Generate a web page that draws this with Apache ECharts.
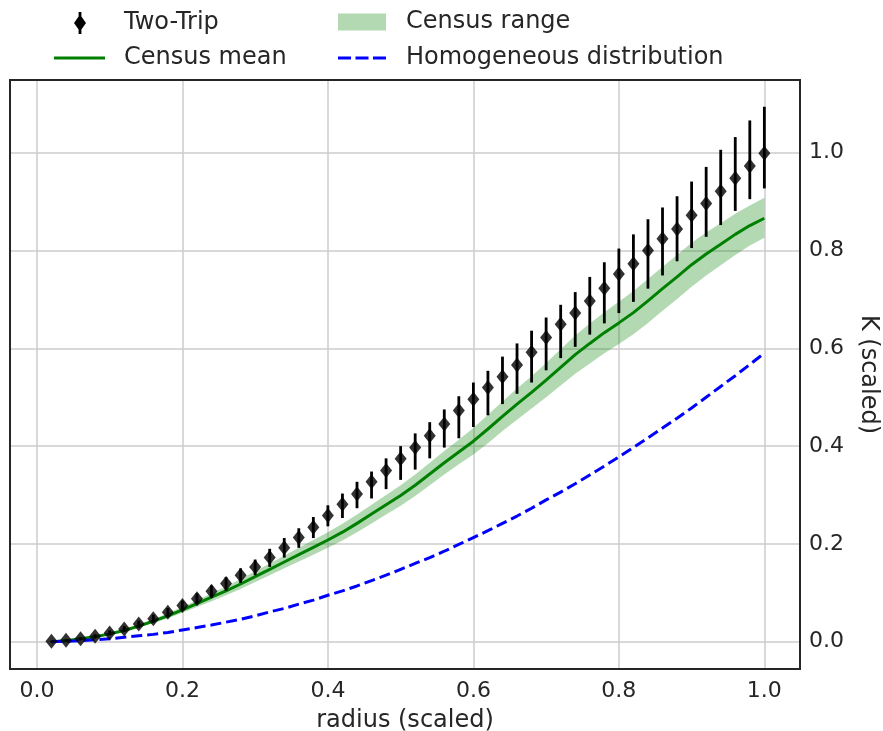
<!DOCTYPE html>
<html>
<head>
<meta charset="utf-8">
<script src="https://cdn.jsdelivr.net/npm/echarts@6/dist/echarts.min.js"></script>
<style>
html,body{margin:0;padding:0;background:#fff;}
#chart{width:883px;height:731px;}
</style>
</head>
<body>
<div id="chart"></div>
<script>
// ---- data ----
const radius = [0.02,0.04,0.06,0.08,0.10,0.12,0.14,0.16,0.18,0.20,0.22,0.24,0.26,0.28,0.30,0.32,0.34,0.36,0.38,0.40,0.42,0.44,0.46,0.48,0.50,0.52,0.54,0.56,0.58,0.60,0.62,0.64,0.66,0.68,0.70,0.72,0.74,0.76,0.78,0.80,0.82,0.84,0.86,0.88,0.90,0.92,0.94,0.96,0.98,1.00];

const twoTrip = [0.001,0.003,0.006,0.011,0.018,0.026,0.036,0.047,0.060,0.074,0.088,0.103,0.119,0.136,0.153,0.172,0.192,0.213,0.234,0.258,0.281,0.302,0.327,0.350,0.374,0.397,0.421,0.445,0.473,0.496,0.520,0.542,0.566,0.592,0.622,0.649,0.672,0.697,0.723,0.752,0.773,0.800,0.824,0.844,0.872,0.896,0.921,0.948,0.973,0.999];
const twoTripLow = [0.000,0.001,0.003,0.007,0.013,0.020,0.029,0.039,0.051,0.064,0.077,0.090,0.104,0.120,0.136,0.153,0.172,0.192,0.212,0.236,0.253,0.273,0.293,0.312,0.331,0.352,0.375,0.397,0.416,0.439,0.463,0.486,0.507,0.530,0.555,0.580,0.603,0.628,0.651,0.672,0.695,0.722,0.749,0.778,0.805,0.828,0.852,0.881,0.905,0.927];
const twoTripHigh = [0.002,0.005,0.009,0.015,0.023,0.032,0.043,0.055,0.069,0.084,0.099,0.115,0.132,0.150,0.168,0.190,0.212,0.232,0.255,0.279,0.303,0.327,0.348,0.375,0.400,0.426,0.449,0.475,0.502,0.530,0.554,0.583,0.610,0.636,0.663,0.689,0.715,0.746,0.776,0.804,0.833,0.864,0.888,0.911,0.941,0.971,1.006,1.032,1.066,1.094];

const censusMean = [0.000,0.002,0.006,0.010,0.016,0.023,0.032,0.042,0.053,0.065,0.078,0.091,0.104,0.118,0.133,0.148,0.163,0.178,0.193,0.208,0.224,0.242,0.261,0.280,0.299,0.320,0.343,0.366,0.388,0.410,0.435,0.461,0.486,0.510,0.535,0.561,0.587,0.610,0.632,0.652,0.673,0.697,0.722,0.746,0.771,0.793,0.813,0.833,0.851,0.866];
const censusLow = [0.000,0.001,0.005,0.008,0.014,0.020,0.029,0.038,0.048,0.059,0.071,0.083,0.095,0.108,0.122,0.136,0.150,0.164,0.178,0.192,0.207,0.224,0.242,0.260,0.278,0.298,0.320,0.342,0.363,0.383,0.406,0.431,0.454,0.477,0.500,0.524,0.548,0.569,0.590,0.609,0.629,0.652,0.677,0.701,0.726,0.749,0.770,0.791,0.810,0.826];
const censusHigh = [0.000,0.003,0.007,0.012,0.018,0.026,0.035,0.046,0.058,0.071,0.085,0.099,0.113,0.128,0.144,0.160,0.176,0.192,0.208,0.224,0.241,0.260,0.280,0.300,0.320,0.342,0.366,0.390,0.413,0.437,0.464,0.491,0.518,0.543,0.570,0.598,0.626,0.651,0.674,0.695,0.717,0.742,0.767,0.791,0.816,0.837,0.856,0.875,0.892,0.908];

const homogeneous = [0.000,0.001,0.002,0.004,0.006,0.009,0.012,0.015,0.019,0.024,0.029,0.034,0.040,0.046,0.053,0.061,0.068,0.077,0.085,0.095,0.104,0.114,0.125,0.136,0.148,0.160,0.172,0.185,0.199,0.213,0.227,0.242,0.257,0.273,0.290,0.306,0.323,0.341,0.359,0.378,0.397,0.417,0.437,0.457,0.478,0.500,0.522,0.544,0.567,0.590];

const xTickLabels = ['0.0','0.2','0.4','0.6','0.8','1.0'];
const yTickLabels = ['0.0','0.2','0.4','0.6','0.8','1.0'];

// ---- chart ----
const FONT = 'DejaVu Sans';
const TXT = '#262626';
const chart = echarts.init(document.getElementById('chart'), null, {renderer:'canvas'});

const pairs = (ys) => radius.map((x,i)=>[x, ys[i]]);
const fmtX = (v) => { const s = (Math.round(v*10)/10).toFixed(1); return xTickLabels.indexOf(s) >= 0 ? s : ''; };
const fmtY = (v) => { const s = (Math.round(v*10)/10).toFixed(1); return yTickLabels.indexOf(s) >= 0 ? s : ''; };

const errIcon = 'path://M4.6,0 L7.4,0 L7.4,4.5 L12,11 L7.4,17.5 L7.4,22 L4.6,22 L4.6,17.5 L0,11 L4.6,4.5 Z';
const solidIcon = 'path://M0,0 L51,0 L51,3 L0,3 Z';
const dashIcon = 'path://M0,0 L13,0 L13,3 L0,3 Z M17.5,0 L30.5,0 L30.5,3 L17.5,3 Z M35,0 L48,0 L48,3 L35,3 Z';

function legendItem(name, left, top, icon, w, h, padLeft){
  return {
    data:[{name:name, icon:icon}],
    left:left, top:top, padding:0, itemWidth:w, itemHeight:h,
    selectedMode:false,
    textStyle:{fontFamily:FONT, fontSize:24, lineHeight:24, color:TXT, padding:[0,0,0,padLeft]}
  };
}

const option = {
  animation:false,
  backgroundColor:'#fff',
  legend:[
    legendItem('Two-Trip', 74, 11, errIcon, 12, 22, 33),
    legendItem('Census range', 338, 10, 'rect', 48, 17, 15),
    legendItem('Census mean', 54, 46, solidIcon, 51, 3, 14),
    legendItem('Homogeneous distribution', 338, 46, dashIcon, 48, 3, 15)
  ],
  grid:{left:10, right:83, top:80, bottom:62, outerBoundsMode:'none', containLabel:false,
        show:true, borderColor:'#262626', borderWidth:2, backgroundColor:'transparent', z:10},
  xAxis:{
    type:'value', min:-0.037, max:1.049, minInterval:0.2, maxInterval:0.2,
    name:'radius (scaled)', nameLocation:'middle', nameGap:40,
    nameTextStyle:{fontFamily:FONT, fontSize:24, color:TXT},
    axisLine:{show:false}, axisTick:{show:false},
    axisLabel:{fontFamily:FONT, fontSize:22, color:TXT, margin:11, showMinLabel:false, showMaxLabel:false, formatter:fmtX},
    splitLine:{show:true, lineStyle:{color:'#cccccc', width:1.5}}
  },
  yAxis:{
    type:'value', position:'right', min:-0.0558, max:1.1487, minInterval:0.2, maxInterval:0.2,
    name:'K (scaled)', nameLocation:'middle', nameGap:56, nameRotate:-90,
    nameTextStyle:{fontFamily:FONT, fontSize:24, color:TXT},
    axisLine:{show:false}, axisTick:{show:false},
    axisLabel:{fontFamily:FONT, fontSize:22, color:TXT, margin:9, showMinLabel:false, showMaxLabel:false, formatter:fmtY},
    splitLine:{show:true, lineStyle:{color:'#cccccc', width:1.5}}
  },
  series:[
    {
      name:'Census range', type:'custom', z:2,
      itemStyle:{color:'rgba(0,128,0,0.3)'},
      data:[[radius[0], censusLow[0]]],
      encode:{x:0, y:1},
      renderItem:function(params, api){
        if (params.dataIndex !== 0) return null;
        const pts = [];
        for (let i=0;i<radius.length;i++) pts.push(api.coord([radius[i], censusHigh[i]]));
        for (let i=radius.length-1;i>=0;i--) pts.push(api.coord([radius[i], censusLow[i]]));
        return {type:'polygon', shape:{points:pts}, style:{fill:'rgba(0,128,0,0.3)'}};
      }
    },
    {
      name:'Census mean', type:'line', z:3, data:pairs(censusMean), symbol:'none',
      lineStyle:{color:'#008000', width:3}, itemStyle:{color:'#008000'}
    },
    {
      name:'Homogeneous distribution', type:'line', z:3, data:pairs(homogeneous), symbol:'none',
      lineStyle:{color:'#0000ff', width:3, type:[11,5]}, itemStyle:{color:'#0000ff'}
    },
    {
      name:'Two-Trip', type:'custom', z:4,
      itemStyle:{color:'#000'},
      data:radius.map((x,i)=>[x, twoTripLow[i], twoTripHigh[i]]),
      encode:{x:0, y:[1,2]},
      renderItem:function(params, api){
        const x = api.value(0);
        const p1 = api.coord([x, api.value(1)]);
        const p2 = api.coord([x, api.value(2)]);
        return {type:'line', shape:{x1:p1[0], y1:p1[1], x2:p2[0], y2:p2[1]}, style:{stroke:'#000', lineWidth:2.8}};
      }
    },
    {
      name:'Two-Trip', type:'scatter', z:5, data:pairs(twoTrip),
      symbol:'diamond', symbolSize:[12,15], itemStyle:{color:'#000'}
    }
  ]
};
chart.setOption(option);
</script>
</body>
</html>
